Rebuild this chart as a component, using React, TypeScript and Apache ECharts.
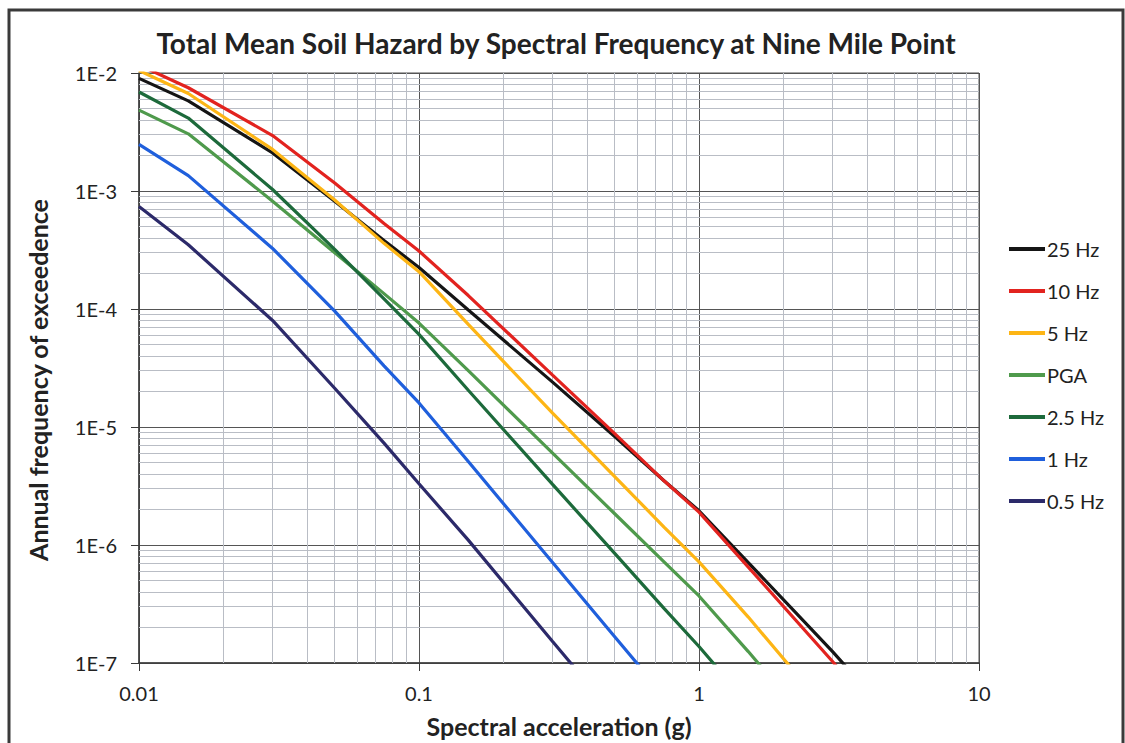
import React, { useEffect, useRef } from "react";
import * as echarts from "echarts";

// Spectral acceleration (g) at which the hazard is tabulated
const accel = [0.01, 0.015, 0.03, 0.05, 0.075, 0.1, 0.15, 0.3, 0.5, 0.75, 1, 1.5, 3, 5];

// Mean annual frequency of exceedance for each spectral frequency
const hz25 = [9.0e-3, 5.8e-3, 2.1e-3, 8.2e-4, 3.8e-4, 2.25e-4, 9.8e-5, 2.4e-5, 8.3e-6, 3.5e-6, 1.95e-6, 7.1e-7, 1.25e-7, 3.2e-8];
const hz10 = [1.17e-2, 7.5e-3, 2.95e-3, 1.17e-3, 5.3e-4, 3.1e-4, 1.3e-4, 2.75e-5, 8.8e-6, 3.5e-6, 1.9e-6, 6.5e-7, 1.03e-7, 2.4e-8];
const hz5 = [1.05e-2, 6.7e-3, 2.25e-3, 8.4e-4, 3.6e-4, 2.07e-4, 7.4e-5, 1.31e-5, 3.8e-6, 1.42e-6, 7.2e-7, 2.45e-7, 3.5e-8];
const pga = [4.85e-3, 3.05e-3, 8.2e-4, 3.0e-4, 1.35e-4, 7.6e-5, 3.0e-5, 6.0e-6, 1.84e-6, 7.2e-7, 3.7e-7, 1.25e-7, 1.8e-8];
const hz2_5 = [6.9e-3, 4.15e-3, 1.03e-3, 3.2e-4, 1.22e-4, 6.1e-5, 2.05e-5, 3.26e-6, 8.5e-7, 2.9e-7, 1.38e-7, 4.5e-8];
const hz1 = [2.48e-3, 1.35e-3, 3.26e-4, 9.6e-5, 3.3e-5, 1.6e-5, 5.1e-6, 7.1e-7, 1.67e-7, 5.3e-8];
const hz0_5 = [7.4e-4, 3.5e-4, 8.0e-5, 2.13e-5, 7.3e-6, 3.3e-6, 1.1e-6, 1.52e-7, 3.6e-8];

const seriesNames = ["25 Hz", "10 Hz", "5 Hz", "PGA", "2.5 Hz", "1 Hz", "0.5 Hz"];
const seriesValues = [hz25, hz10, hz5, pga, hz2_5, hz1, hz0_5];
const seriesColors = ["#151515", "#e2231f", "#fdb515", "#4f9a4c", "#1d6a3b", "#1f5fdc", "#2c2a6a"];

// Tick labels, indexed by decade exponent
const xTickLabels = ["0.01", "0.1", "1", "10"]; // 1e-2 .. 1e1
const yTickLabels = ["1E-7", "1E-6", "1E-5", "1E-4", "1E-3", "1E-2"]; // 1e-7 .. 1e-2

// Axis ranges
const X_MIN = 0.01;
const X_MAX = 10;
const Y_MIN = 1e-7;
const Y_MAX = 1e-2;

// Minor gridlines: multiples 2..9 inside each decade
const minorSteps = [2, 3, 4, 5, 6, 7, 8, 9];
const xDecades = [0.01, 0.1, 1];
const yDecades = [1e-7, 1e-6, 1e-5, 1e-4, 1e-3];

const FONT = "Lato, 'Open Sans', sans-serif";

export default function App() {
  const ref = useRef<HTMLDivElement>(null);

  useEffect(() => {
    if (!ref.current) return;
    const chart = echarts.init(ref.current, undefined, { renderer: "svg" });

    const minorLines: any[] = [];
    xDecades.forEach((d) =>
      minorSteps.forEach((m) => minorLines.push([{ coord: [d * m, Y_MIN] }, { coord: [d * m, Y_MAX] }]))
    );
    yDecades.forEach((d) =>
      minorSteps.forEach((m) => minorLines.push([{ coord: [X_MIN, d * m] }, { coord: [X_MAX, d * m] }]))
    );

    const curveSeries = seriesNames.map((name, i) => ({
      name,
      type: "line",
      data: seriesValues[i].map((v, k) => [accel[k], v]),
      showSymbol: false,
      symbol: "none",
      clip: true,
      z: 10 + i,
      lineStyle: { color: seriesColors[i], width: 3.2 },
      itemStyle: { color: seriesColors[i] },
    }));

    chart.setOption({
      animation: false,
      backgroundColor: "#ffffff",
      textStyle: { fontFamily: FONT },
      grid: {
        left: 139,
        top: 73,
        right: 146,
        bottom: 77,
        show: true,
        borderColor: "#505050",
        borderWidth: 1,
        containLabel: false,
      },
      legend: {
        orient: "vertical",
        left: 1004,
        top: 233,
        itemWidth: 36,
        itemHeight: 4,
        itemGap: 20,
        icon: "rect",
        data: seriesNames,
        textStyle: { fontSize: 20, color: "#222", fontFamily: FONT, lineHeight: 22, padding: [0, 0, 0, -3] },
      },
      xAxis: {
        type: "log",
        logBase: 10,
        min: X_MIN,
        max: X_MAX,
        splitNumber: 3,
        name: "Spectral acceleration (g)",
        nameLocation: "middle",
        nameGap: 50,
        nameTextStyle: { fontSize: 25, fontWeight: "bold", color: "#222", fontFamily: FONT },
        axisLine: { show: true, lineStyle: { color: "#3a3a3a", width: 1.5 } },
        axisTick: { show: true, length: 8, lineStyle: { color: "#3a3a3a" } },
        axisLabel: {
          fontSize: 20,
          color: "#222",
          margin: 20,
          fontFamily: FONT,
          formatter: (v: number) => xTickLabels[Math.round(Math.log10(v)) + 2] ?? "",
        },
        splitLine: { show: true, lineStyle: { color: "#555", width: 1 } },
      },
      yAxis: {
        type: "log",
        logBase: 10,
        min: Y_MIN,
        max: Y_MAX,
        splitNumber: 5,
        axisLine: { show: true, lineStyle: { color: "#3a3a3a", width: 1.5 } },
        axisTick: { show: true, length: 8, lineStyle: { color: "#3a3a3a" } },
        axisLabel: {
          fontSize: 20,
          color: "#222",
          margin: 22,
          fontFamily: FONT,
          formatter: (v: number) => yTickLabels[Math.round(Math.log10(v)) + 7] ?? "",
        },
        splitLine: { show: true, lineStyle: { color: "#555", width: 1 } },
      },
      graphic: [
        {
          type: "rect",
          shape: { x: 9, y: 10, width: 1114, height: 800 },
          style: { fill: "none", stroke: "#3a3a3a", lineWidth: 3 },
          silent: true,
        },
        {
          type: "text",
          x: 556,
          y: 43,
          style: {
            text: "Total Mean Soil Hazard by Spectral Frequency at Nine Mile Point",
            fontSize: 28,
            fontWeight: "bold",
            fontFamily: FONT,
            fill: "#222",
            align: "center",
            verticalAlign: "middle",
          },
        },
        {
          type: "text",
          x: 38,
          y: 380,
          rotation: Math.PI / 2,
          style: {
            text: "Annual frequency of exceedence",
            fontSize: 25,
            fontWeight: "bold",
            fontFamily: FONT,
            fill: "#222",
            align: "center",
            verticalAlign: "middle",
          },
        },
      ],
      series: [
        {
          name: "minor-grid",
          type: "line",
          data: [],
          silent: true,
          z: 1,
          markLine: {
            silent: true,
            symbol: ["none", "none"],
            label: { show: false },
            animation: false,
            lineStyle: { color: "#b9bdc5", width: 1, type: "solid" },
            emphasis: { disabled: true },
            data: minorLines,
          },
        },
        ...curveSeries,
      ],
    });

    return () => chart.dispose();
  }, []);

  return (
    <div
      ref={ref}
      style={{ position: "fixed", left: 0, top: 0, width: 1125, height: 743, background: "#fff" }}
    />
  );
}
